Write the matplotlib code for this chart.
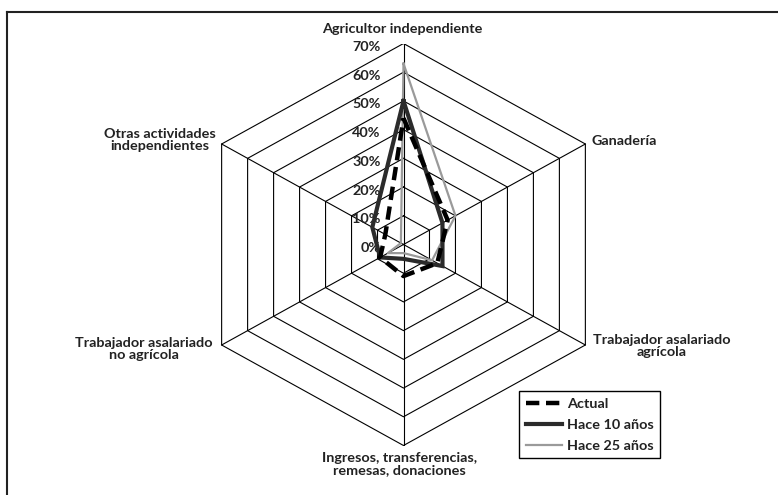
import numpy as np
import matplotlib
matplotlib.use("Agg")
import matplotlib.pyplot as plt
from matplotlib.lines import Line2D

# ---- data ----
categories = ["Agricultor independiente", "Ganadería", "Trabajador asalariado\nagrícola",
              "Ingresos, transferencias,\nremesas, donaciones", "Trabajador asalariado\nno agrícola",
              "Otras actividades\nindependientes"]
actual = [44, 17, 13, 11, 9, 7]
hace10 = [50, 15, 15, 5, 9, 12]
hace25 = [63, 20, 11, 3, 6, 1]
series_names = ["Actual", "Hace 10 años", "Hace 25 años"]
tick_values = [0, 10, 20, 30, 40, 50, 60, 70]
tick_labels = ["0%", "10%", "20%", "30%", "40%", "50%", "60%", "70%"]

plt.rcParams['font.family'] = ['Lato', 'DejaVu Sans']
FS = 10.4
W, H = 778, 495
fig = plt.figure(figsize=(W / 100, H / 100), dpi=100)

# center (403.5, 244.5) px; 70% -> 201 px vertical, 210 px horizontal
cx, cy = 403.5, 244.5
rx, ry = 210.0, 201.0
rmax = 70
ax = fig.add_axes([(cx - rx) / W, (H - cy - ry) / H, 2 * rx / W, 2 * ry / H])
ax.set_xlim(-rmax, rmax)
ax.set_ylim(-rmax, rmax)
ax.axis("off")

n = len(categories)
theta = np.arange(n) * 2 * np.pi / n


def xy(vals):
    v = np.asarray(vals, float)
    x = v * np.sin(theta)
    y = v * np.cos(theta)
    return np.append(x, x[0]), np.append(y, y[0])


DASH = (0, (3.0, 1.5))

# grid hexagons
for t in tick_values[1:]:
    gx, gy = xy([t] * n)
    ax.plot(gx, gy, color="black", lw=0.8, zorder=1)
for th in theta:
    ax.plot([0, rmax * np.sin(th)], [0, rmax * np.cos(th)], color="black", lw=0.8, zorder=1)

# series
x, y = xy(hace25)
ax.plot(x, y, color="#9a9a9a", lw=1.6, zorder=3)
x, y = xy(hace10)
ax.plot(x, y, color="#2b2b2b", lw=3.0, zorder=4, solid_joinstyle="miter")
x, y = xy(actual)
ax.plot(x, y, color="black", lw=3.2, ls=DASH, zorder=5)

# tick labels
for v, lab in zip(tick_values, tick_labels):
    ax.annotate(lab, xy=(0, v), xytext=(-23, -3.5), textcoords="offset pixels",
                ha="right", va="center", fontsize=FS, fontweight="bold", color="#222222")


def ftext(px, py, s, ha="center"):
    fig.text(px / W, 1 - py / H, s, ha=ha, va="center", fontsize=FS, fontweight="bold",
             color="#222222", linespacing=1.05, multialignment="center")


ftext(402, 29, categories[0])
ftext(592, 141, categories[1], ha="left")
ftext(662, 346, categories[2])
ftext(399.5, 464, categories[3])
ftext(143.5, 349, categories[4])
ftext(160, 140, categories[5])

# legend
handles = [Line2D([], [], color="black", lw=3.2, ls=DASH),
           Line2D([], [], color="#2b2b2b", lw=3.0),
           Line2D([], [], color="#9a9a9a", lw=1.6)]
leg = fig.legend(handles, series_names, loc="upper left",
                 bbox_to_anchor=(519 / W, 1 - 391 / H), borderaxespad=0,
                 frameon=True, fancybox=False, edgecolor="black", framealpha=1,
                 prop={"size": FS, "weight": "bold"}, handlelength=2.5,
                 handletextpad=0.35, labelspacing=0.62, borderpad=0.45)
leg.get_frame().set_linewidth(1.0)
for t in leg.get_texts():
    t.set_color("#222222")

# outer frame (cropped)
fig.add_artist(Line2D([7 / W, 1.0], [1 - 12 / H, 1 - 12 / H], transform=fig.transFigure,
                      color="#222222", lw=1.5))
fig.add_artist(Line2D([7 / W, 7 / W], [1 - 12 / H, 0], transform=fig.transFigure,
                      color="#222222", lw=1.5))

fig.savefig("out.png", dpi=100)
